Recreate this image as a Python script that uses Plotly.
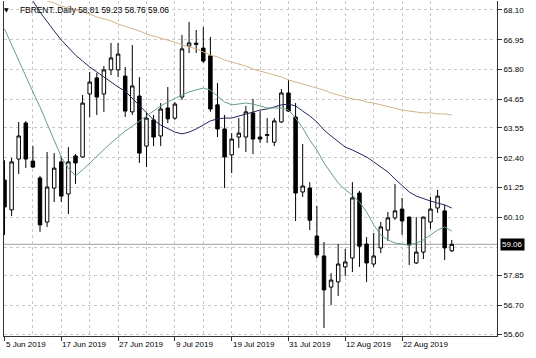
import plotly.graph_objects as go

# ---------------- data ----------------
dates = [
    "2019-06-05", "2019-06-06", "2019-06-07", "2019-06-10", "2019-06-11", "2019-06-12", "2019-06-13", "2019-06-14",
    "2019-06-17", "2019-06-18", "2019-06-19", "2019-06-20", "2019-06-21", "2019-06-24", "2019-06-25", "2019-06-26",
    "2019-06-27", "2019-06-28", "2019-07-01", "2019-07-02", "2019-07-03", "2019-07-04", "2019-07-05", "2019-07-08",
    "2019-07-09", "2019-07-10", "2019-07-11", "2019-07-12", "2019-07-15", "2019-07-16", "2019-07-17", "2019-07-18",
    "2019-07-19", "2019-07-22", "2019-07-23", "2019-07-24", "2019-07-25", "2019-07-26", "2019-07-29", "2019-07-30",
    "2019-07-31", "2019-08-01", "2019-08-02", "2019-08-05", "2019-08-06", "2019-08-07", "2019-08-08", "2019-08-09",
    "2019-08-12", "2019-08-13", "2019-08-14", "2019-08-15", "2019-08-16", "2019-08-19", "2019-08-20", "2019-08-21",
    "2019-08-22", "2019-08-23", "2019-08-26", "2019-08-27", "2019-08-28", "2019-08-29", "2019-08-30", "2019-09-02",
]

opens = [61.54, 60.39, 62.35, 63.74, 62.27, 61.62, 59.92, 61.23, 62.24, 61.00,
         62.47, 62.43, 64.86, 65.48, 64.86, 65.79, 65.79, 65.55, 64.17, 64.78,
         62.85, 63.86, 63.24, 64.32, 63.93, 64.74, 66.71, 66.82, 66.63, 66.33,
         64.44, 63.51, 62.51, 63.20, 63.20, 64.13, 63.20, 63.26, 63.00, 63.78,
         64.90, 63.97, 61.08, 61.23, 59.38, 58.61, 57.41, 57.61, 58.19, 58.53,
         61.04, 59.07, 58.30, 58.92, 59.61, 60.08, 60.42, 60.11, 58.34, 58.76,
         59.92, 60.46, 60.35, 58.81]
highs = [62.30, 62.39, 63.78, 63.82, 62.85, 61.70, 62.62, 62.58, 62.47, 62.81,
         62.54, 64.82, 65.71, 65.67, 65.94, 66.83, 66.83, 65.90, 66.75, 65.51,
         64.13, 64.05, 64.51, 65.13, 64.55, 67.14, 67.64, 67.33, 67.44, 67.06,
         65.28, 64.05, 63.35, 63.93, 64.40, 64.67, 64.20, 63.93, 63.93, 65.05,
         65.40, 64.51, 62.93, 61.46, 60.54, 59.15, 57.95, 59.07, 58.88, 61.46,
         61.12, 59.34, 59.50, 59.92, 60.31, 61.39, 60.85, 60.13, 60.11, 60.13,
         60.89, 61.16, 60.58, 59.23]
lows = [59.42, 60.15, 61.77, 62.00, 62.00, 59.54, 59.73, 60.69, 60.69, 60.23,
        61.39, 62.40, 63.97, 64.05, 64.17, 65.59, 65.51, 63.97, 64.05, 62.20,
        62.04, 62.85, 62.85, 63.74, 63.86, 64.63, 66.44, 66.44, 66.06, 64.17,
        63.20, 61.23, 61.81, 62.78, 62.62, 62.54, 62.97, 62.97, 62.85, 63.74,
        64.17, 59.96, 60.89, 59.61, 58.53, 55.83, 56.72, 57.07, 57.84, 57.99,
        58.19, 57.61, 58.19, 58.72, 59.19, 60.00, 59.42, 58.26, 58.30, 58.49,
        59.65, 60.27, 58.45, 58.76]
closes = [60.50, 62.24, 63.24, 62.35, 62.04, 59.81, 61.27, 62.00, 60.92, 62.24,
          62.20, 64.51, 65.32, 64.74, 65.79, 66.25, 66.40, 64.20, 65.17, 62.58,
          63.93, 63.20, 64.28, 63.90, 64.47, 66.60, 66.83, 66.78, 66.13, 64.28,
          63.51, 62.43, 63.12, 63.35, 64.17, 63.12, 63.12, 63.29, 63.82, 64.90,
          64.20, 61.04, 61.31, 59.99, 58.65, 57.30, 57.68, 58.30, 58.38, 60.85,
          58.99, 58.34, 58.61, 59.73, 60.08, 60.35, 59.96, 59.03, 58.76, 60.11,
          60.42, 60.92, 58.92, 59.06]

ma_fast = [67.37, 66.75, 66.17, 65.55, 64.94, 64.36, 63.74, 63.12, 62.43, 62.00,
           61.70, 61.93, 62.20, 62.43, 62.70, 62.97, 63.20, 63.43, 63.62, 63.82,
           64.01, 64.20, 64.40, 64.55, 64.70, 64.82, 64.94, 65.01, 65.09, 65.01,
           64.78, 64.55, 64.44, 64.47, 64.51, 64.47, 64.40, 64.32, 64.32, 64.32,
           64.24, 63.93, 63.55, 63.08, 62.70, 62.20, 61.81, 61.43, 61.16, 60.96,
           60.69, 60.31, 59.81, 59.42, 59.23, 59.11, 59.07, 59.03, 59.11, 59.23,
           59.42, 59.61, 59.73, 59.57]
ma_mid = [None, None, None, 68.75, 68.45, 68.02, 67.64, 67.29, 66.94, 66.63,
          66.36, 66.13, 65.90, 65.71, 65.51, 65.32, 65.13, 64.97, 64.70, 64.40,
          64.13, 63.86, 63.66, 63.51, 63.39, 63.32, 63.39, 63.51, 63.66, 63.82,
          63.90, 63.93, 63.93, 64.01, 64.09, 64.17, 64.24, 64.28, 64.36, 64.44,
          64.47, 64.40, 64.20, 64.01, 63.78, 63.47, 63.24, 63.01, 62.81, 62.70,
          62.58, 62.43, 62.24, 62.04, 61.85, 61.58, 61.31, 61.08, 60.92, 60.81,
          60.73, 60.65, 60.58, 60.46]
ma_slow = [None, None, None, None, 68.64, 68.56, 68.45, 68.37, 68.25, 68.18,
           68.10, 68.02, 67.95, 67.83, 67.75, 67.68, 67.56, 67.48, 67.37, 67.29,
           67.17, 67.10, 67.02, 66.94, 66.86, 66.75, 66.67, 66.60, 66.48, 66.36,
           66.29, 66.17, 66.09, 66.02, 65.94, 65.82, 65.75, 65.67, 65.59, 65.52,
           65.40, 65.32, 65.25, 65.17, 65.09, 65.01, 64.90, 64.82, 64.74, 64.67,
           64.63, 64.55, 64.51, 64.44, 64.36, 64.28, 64.24, 64.20, 64.17, 64.13,
           64.13, 64.09, 64.09, 64.05]

tick_dates = ["2019-06-05", "2019-06-17", "2019-06-27", "2019-07-09",
              "2019-07-19", "2019-07-31", "2019-08-12", "2019-08-22"]
tick_labels = ["5 Jun 2019", "17 Jun 2019", "27 Jun 2019", "9 Jul 2019",
               "19 Jul 2019", "31 Jul 2019", "12 Aug 2019", "22 Aug 2019"]
price_ticks = [68.10, 66.95, 65.80, 64.65, 63.55, 62.40, 61.25, 60.10, 57.85, 56.70, 55.60]
extra_grid = [58.95]
symbol = "FBRENT..Daily"

# ---------------- figure ----------------
idx = list(range(len(dates)))
tick_idx = [dates.index(d) for d in tick_dates]
minor_idx = [i + 4 for i in tick_idx]

GRID = "#c8c8c8"
FRAME = "#333333"
FONT = "Liberation Sans, Arial, sans-serif"

fig = go.Figure()
fig.add_trace(go.Candlestick(
    x=idx, open=opens, high=highs, low=lows, close=closes,
    increasing=dict(line=dict(color="black", width=1), fillcolor="white"),
    decreasing=dict(line=dict(color="black", width=1), fillcolor="black"),
    whiskerwidth=0, showlegend=False, hoverinfo="skip",
))
fig.add_trace(go.Scatter(x=idx, y=ma_slow, mode="lines",
                         line=dict(color="#d2b48c", width=1), hoverinfo="skip"))
fig.add_trace(go.Scatter(x=idx, y=ma_mid, mode="lines",
                         line=dict(color="#22285a", width=1), hoverinfo="skip"))
fig.add_trace(go.Scatter(x=idx, y=ma_fast, mode="lines",
                         line=dict(color="#669f8c", width=1), hoverinfo="skip"))

fig.update_layout(
    width=536, height=358,
    margin=dict(l=4, r=39, t=1, b=22),
    paper_bgcolor="white", plot_bgcolor="white",
    showlegend=False,
    font=dict(family=FONT, size=8, color="black"),
    xaxis=dict(
        range=[-0.07, 69.37],
        rangeslider=dict(visible=False),
        tickvals=tick_idx, showticklabels=False,
        ticks="outside", ticklen=4, tickcolor=FRAME,
        showgrid=True, gridcolor=GRID, griddash="3px,3px", gridwidth=1,
        showline=True, linecolor=FRAME, linewidth=1, zeroline=False,
        minor=dict(tickvals=minor_idx, showgrid=True, gridcolor=GRID,
                   griddash="3px,3px", gridwidth=1, ticks=""),
        fixedrange=True,
    ),
    yaxis=dict(
        side="right",
        range=[55.523, 68.447],
        tickvals=price_ticks, ticktext=[f"{v:.2f}" for v in price_ticks],
        ticks="outside", ticklen=4, tickcolor=FRAME,
        showgrid=True, gridcolor=GRID, griddash="3px,3px", gridwidth=1,
        showline=True, mirror=True, linecolor=FRAME, linewidth=1, zeroline=False,
        minor=dict(tickvals=extra_grid, showgrid=True, gridcolor=GRID,
                   griddash="3px,3px", gridwidth=1, ticks=""),
        tickfont=dict(family=FONT, size=8, color="black"),
        fixedrange=True,
    ),
)

# current price line
fig.add_shape(type="line", xref="paper", x0=0, x1=1, yref="y",
              y0=closes[-1], y1=closes[-1],
              line=dict(color="#a0a0a0", width=1), layer="below")

annotations = []
for i, lab in zip(tick_idx, tick_labels):
    annotations.append(dict(x=i, xref="x", y=0, yref="paper", text=lab,
                            showarrow=False, xanchor="left", yanchor="top",
                            xshift=-1, yshift=-2,
                            font=dict(family=FONT, size=8, color="black")))
# price marker box
annotations.append(dict(x=1, xref="paper", y=closes[-1], yref="y",
                        text=f"{closes[-1]:.2f}", showarrow=False,
                        xanchor="left", yanchor="middle", xshift=3,
                        bgcolor="black", borderpad=1,
                        font=dict(family=FONT, size=8, color="white")))
# title
annotations.append(dict(x=0, xref="paper", y=price_ticks[0], yref="y",
                        text="▼", showarrow=False, xanchor="left", yanchor="middle",
                        xshift=-2, font=dict(family="DejaVu Sans", size=6, color="black")))
annotations.append(dict(x=0, xref="paper", y=price_ticks[0], yref="y",
                        text=f"{symbol} {opens[-1]:.2f} {highs[-1]:.2f} {lows[-1]:.2f} {closes[-1]:.2f}",
                        showarrow=False, xanchor="left", yanchor="middle",
                        xshift=14, font=dict(family=FONT, size=8.4, color="black")))
fig.update_layout(annotations=annotations)

fig.write_html("out.html")
